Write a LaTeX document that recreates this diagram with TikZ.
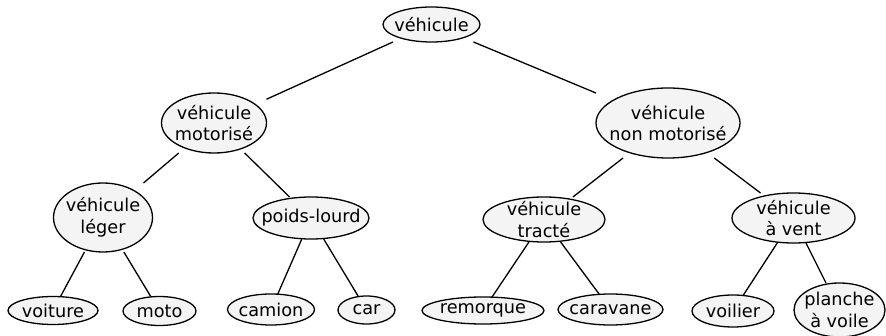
\documentclass[tikz,border=0pt]{standalone}
\usepackage{fontspec}
\setmainfont{DejaVu Sans}
\usetikzlibrary{shapes.geometric,fit}
\definecolor{nodefill}{RGB}{244,244,244}
\tikzset{
  ov/.style={ellipse, draw=black, fill=nodefill, line width=1.3pt, inner sep=0pt, outer sep=0pt},
  lbl/.style={align=center, inner sep=0pt, font=\fontsize{17.7}{21.5}\selectfont},
  bb/.style={rectangle, inner sep=0pt, outer sep=0pt, draw=none},
  edge/.style={draw=black, line width=1.3pt}
}
\begin{document}
\begin{tikzpicture}[x=1pt,y=-1pt]
\useasboundingbox (0,0) rectangle (886,336);
% level 0
\node[ov, minimum width=97pt, minimum height=35pt, label={[lbl]center:véhicule}] (e0) at (431.5,24.5) {};
% level 1
\node[ov, minimum width=105pt, minimum height=60pt, label={[lbl]center:véhicule\\motorisé}] (e1) at (214,123) {};
\node[ov, minimum width=144pt, minimum height=70pt, label={[lbl]center:véhicule\\non motorisé}] (e2) at (668,123) {};
% level 2
\node[ov, minimum width=99pt, minimum height=69pt, label={[lbl]center:véhicule\\léger}] (e11) at (103,217.5) {};
\node[ov, minimum width=116pt, minimum height=42pt, label={[lbl]center:poids-lourd}] (e12) at (311,218) {};
\node[ov, minimum width=122pt, minimum height=45pt, label={[lbl]center:véhicule\\tracté}] (e21) at (544,219.5) {};
\node[ov, minimum width=123pt, minimum height=50pt, label={[lbl]center:véhicule\\à vent}] (e22) at (793.5,218) {};
% level 3
\node[ov, minimum width=90pt, minimum height=28pt, label={[lbl]center:voiture}] (e111) at (53,310.5) {};
\node[ov, minimum width=73pt, minimum height=29pt, label={[lbl]center:moto}] (e112) at (159.5,311) {};
\node[ov, minimum width=87pt, minimum height=31pt, label={[lbl]center:camion}] (e121) at (271,309.5) {};
\node[ov, minimum width=57pt, minimum height=28pt, label={[lbl]center:car}] (e122) at (366.5,310) {};
\node[ov, minimum width=122pt, minimum height=27pt, label={[lbl]center:remorque}] (e211) at (483,310.5) {};
\node[ov, minimum width=105pt, minimum height=31pt, label={[lbl]center:caravane}] (e212) at (610.5,309.5) {};
\node[ov, minimum width=82pt, minimum height=32pt, label={[lbl]center:voilier}] (e221) at (733,311) {};
\node[ov, minimum width=91pt, minimum height=54pt, label={[lbl]center:planche\\à voile}] (e222) at (839.5,310) {};
% bounding boxes used for connectors
\foreach \n in {0,1,2,11,12,21,22,111,112,121,122,211,212,221,222}{
  \node[bb, fit=(e\n)] (n\n) {};
}
% connectors
\draw[edge] (n0) -- (n1);
\draw[edge] (n0) -- (n2);
\draw[edge] (n1) -- (n11);
\draw[edge] (n1) -- (n12);
\draw[edge] (n2) -- (n21);
\draw[edge] (n2) -- (n22);
\draw[edge] (n11) -- (n111);
\draw[edge] (n11) -- (n112);
\draw[edge] (n12) -- (n121);
\draw[edge] (n12) -- (n122);
\draw[edge] (n21) -- (n211);
\draw[edge] (n21) -- (n212);
\draw[edge] (n22) -- (n221);
\draw[edge] (n22) -- (n222);
\end{tikzpicture}
\end{document}
